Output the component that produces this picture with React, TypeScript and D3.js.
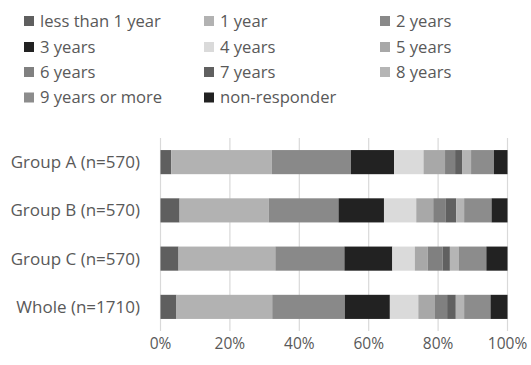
import React from "react";
import * as d3 from "d3";

const categories = ["Group A (n=570)", "Group B (n=570)", "Group C (n=570)", "Whole (n=1710)"];
const seriesNames = [
  "less than 1 year", "1 year", "2 years", "3 years", "4 years", "5 years",
  "6 years", "7 years", "8 years", "9 years or more", "non-responder",
];
const seriesColors = [
  "#5f5f5f", "#b2b2b2", "#898989", "#222222", "#dadada", "#a8a8a8",
  "#808080", "#606060", "#b5b5b5", "#8c8c8c", "#222222",
];
// percent values per series (rows) per category (columns)
const lessThan1 = [3.1, 5.5, 5.2, 4.6];
const year1 = [29.0, 25.7, 27.9, 27.6];
const years2 = [22.8, 20.1, 19.9, 20.9];
const years3 = [12.4, 13.1, 13.8, 13.0];
const years4 = [8.5, 9.3, 6.5, 8.2];
const years5 = [6.2, 4.9, 3.7, 4.8];
const years6 = [2.9, 3.5, 4.3, 3.5];
const years7 = [2.0, 3.1, 2.1, 2.5];
const years8 = [2.6, 2.3, 2.5, 2.4];
const years9plus = [6.6, 7.9, 8.0, 7.6];
const nonResponder = [3.9, 4.6, 6.1, 4.9];
const xTicks = [0, 20, 40, 60, 80, 100];

const seriesValues = [
  lessThan1, year1, years2, years3, years4, years5, years6, years7, years8, years9plus, nonResponder,
];

const W = 531;
const H = 365;
const FONT = "'Open Sans', sans-serif";
const TEXT = "#595959";

export default function App() {
  const x = d3.scaleLinear().domain([0, 100]).range([160.5, 507.5]);
  const y = d3.scaleBand().domain(categories).range([138, 331]).paddingInner(0.5).paddingOuter(0.25);

  const rows = categories.map((c, i) => {
    const obj: Record<string, number | string> = { cat: c };
    seriesNames.forEach((s, j) => (obj[s] = seriesValues[j][i]));
    return obj;
  });
  const stack = d3.stack<Record<string, number | string>>().keys(seriesNames)
    .value((d, k) => d[k] as number);
  const stacked = stack(rows);

  const legendCols = [24, 204, 380];
  const legendRows = [21, 47, 72, 97.5];

  return (
    <svg width={W} height={H} style={{ position: "absolute", left: 0, top: 0 }}>
      <rect width={W} height={H} fill="#fff" />
      {/* legend */}
      {seriesNames.map((s, i) => {
        const cx = legendCols[i % 3];
        const cy = legendRows[Math.floor(i / 3)];
        return (
          <g key={s}>
            <rect x={cx} y={cy - 5} width={10} height={10} fill={seriesColors[i]} />
            <text x={cx + 16} y={cy} dy="0.35em" fontFamily={FONT} fontSize={16.6} fill={TEXT}>{s}</text>
          </g>
        );
      })}
      {/* gridlines */}
      {xTicks.map((t) => (
        <line key={t} x1={x(t)} x2={x(t)} y1={138} y2={331} stroke="#d9d9d9" strokeWidth={1.2} />
      ))}
      {/* bars */}
      {stacked.map((layer, j) => (
        <g key={seriesNames[j]}>
          {layer.map((d, i) => (
            <rect
              key={i}
              x={x(d[0])}
              y={y(categories[i])!}
              width={x(d[1]) - x(d[0])}
              height={y.bandwidth()}
              fill={seriesColors[j]}
            />
          ))}
        </g>
      ))}
      {/* category labels */}
      {categories.map((c) => (
        <text key={c} x={140} y={y(c)! + y.bandwidth() / 2} dy="0.35em" textAnchor="end"
          fontFamily={FONT} fontSize={17} fill={TEXT}>{c}</text>
      ))}
      {/* x tick labels */}
      {xTicks.map((t) => (
        <text key={t} x={x(t)} y={344} dy="0.35em" textAnchor="middle"
          fontFamily={FONT} fontSize={15.5} fill={TEXT}>{t}%</text>
      ))}
    </svg>
  );
}
